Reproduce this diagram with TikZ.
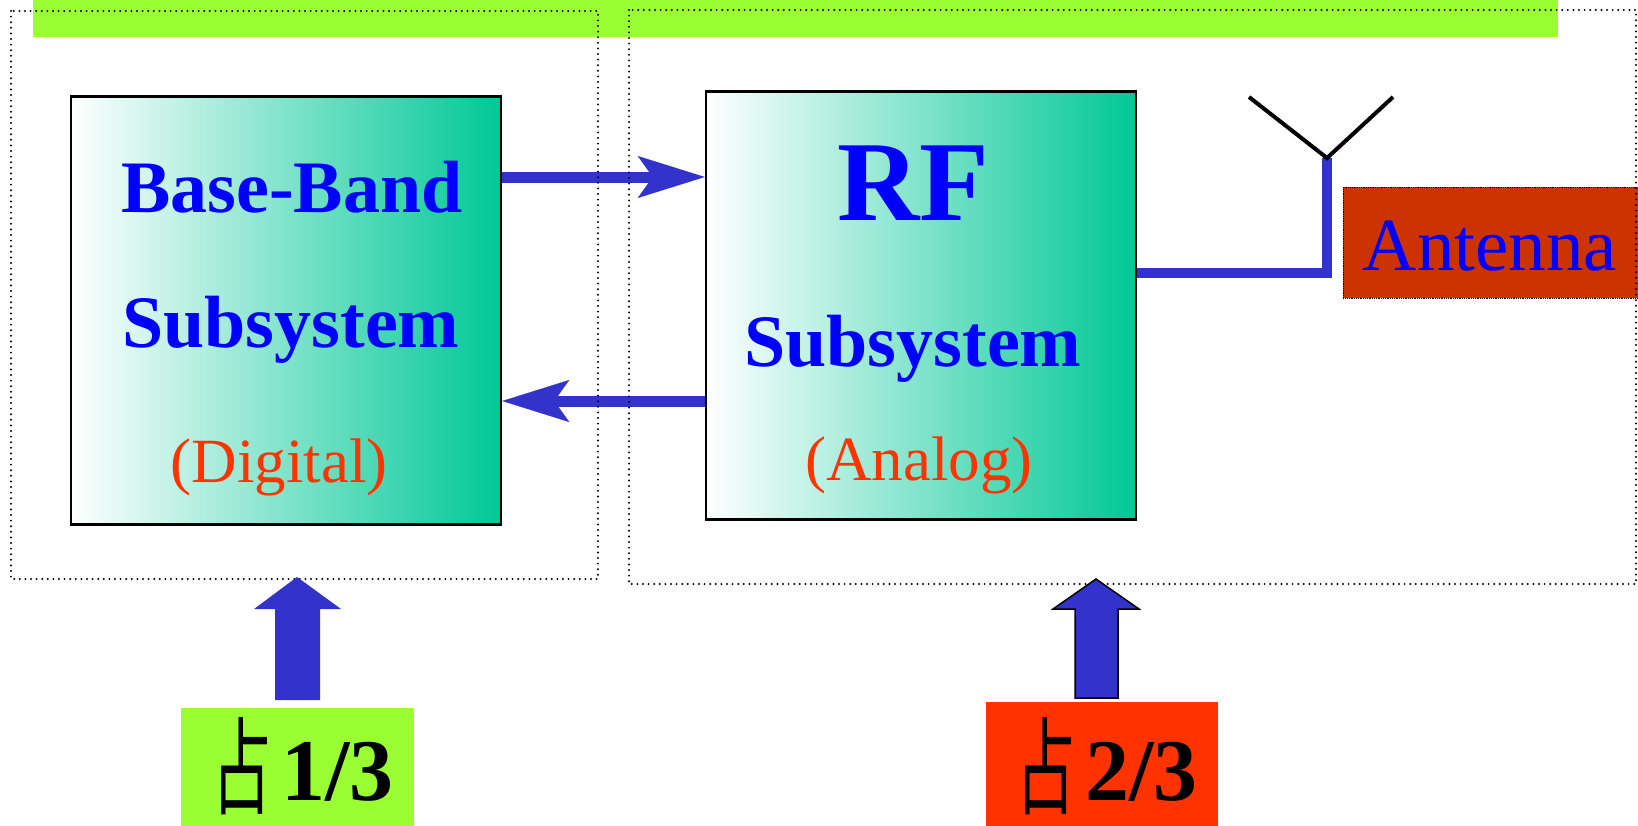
\documentclass[tikz,border=0pt]{standalone}
\usepackage{fontspec}
\setmainfont{Liberation Serif}
\newfontfamily\cjk{Noto Sans CJK SC}
\usetikzlibrary{arrows.meta,calc}
\definecolor{barGreen}{RGB}{153,255,51}
\definecolor{tealEnd}{RGB}{0,200,150}
\definecolor{arrowBlue}{RGB}{51,51,204}
\definecolor{txtBlue}{RGB}{0,0,255}
\definecolor{txtRed}{RGB}{255,51,0}
\definecolor{antRed}{RGB}{204,51,0}
\definecolor{lblRed}{RGB}{255,51,0}
\begin{document}
\begin{tikzpicture}[x=1pt,y=-1pt,
  subsys/.style={draw=black,line width=2.5pt,left color=white,middle color=tealEnd!38,right color=tealEnd,
    minimum width=430pt,minimum height=428pt,inner sep=0pt},
  boldtxt/.style={anchor=base,text=txtBlue,font=\fontsize{74}{80}\selectfont\bfseries,inner sep=0pt},
  regtxt/.style={anchor=base,text=txtRed,font=\fontsize{63}{70}\selectfont,inner sep=0pt},
  flow/.style={draw=arrowBlue,line width=11pt,
    -{Stealth[length=67pt,width=42pt,inset=15pt,line width=0.1pt,fill=arrowBlue]}},
  region/.style={draw=black,line width=2.2pt,dash pattern=on 0pt off 5.6pt,line cap=round},
  lbl/.style={minimum width=233pt,minimum height=120pt,inner sep=0pt,anchor=north west},
  lbltxt/.style={anchor=base,inner sep=0pt,text=black},
]
\useasboundingbox (0,0) rectangle (1638,825);

% top bar
\fill[barGreen] (33,0) rectangle (1558,37);

% subsystem boxes
\node[subsys] (bb) at (286,310.5) {};
\node[subsys] (rf) at (921,305.5) {};

% texts
\node[boldtxt] (bbt1) at (292,212) {Base-Band};
\node[boldtxt] (bbt2) at (291,347) {Subsystem};
\node[regtxt]  (bbt3) at (279,482) {(Digital)};
\node[boldtxt,font=\fontsize{114}{120}\selectfont\bfseries] (rft1) at (913,220) {RF};
\node[boldtxt] (rft2) at (913,366) {Subsystem};
\node[regtxt]  (rft3) at (919,480) {(Analog)};

% flow arrows
\coordinate (yu) at (0,177);
\coordinate (yd) at (0,401);
\draw[flow] (bb.east |- yu) -- (rf.west |- yu);
\draw[flow] (rf.west |- yd) -- (bb.east |- yd);

% antenna
\coordinate (ya) at (0,273);
\coordinate (feed) at (1327,158);
\coordinate (armL) at (1249,97);
\coordinate (armR) at (1393,97);
\node[fill=antRed,draw=black,line width=0.8pt,densely dotted,minimum width=310pt,minimum height=111pt,
  inner sep=0pt,anchor=north west] (antbox) at (1343,187) {};
\node[anchor=base,inner sep=0pt,text=txtBlue,font=\fontsize{75}{80}\selectfont] (antt) at (1490,270) {Antenna};
\draw[arrowBlue,line width=10pt,line join=miter] (rf.east |- ya) -- (feed |- ya) -- (feed);
\draw[black,line width=4pt] (armL) -- (feed) -- (armR);

% dotted regions
\draw[region] (11,11) rectangle (598,579);
\draw[region] (629,10) rectangle (1636,584);

% share labels
\node[lbl,fill=barGreen] (g) at (181,708) {};
\node[lbl,fill=lblRed,minimum width=232pt,minimum height=125pt] (r) at (986,702) {};
\node[lbltxt] (gt) at (303,800) {\raisebox{-6pt}{\scalebox{0.56}[1]{\fontsize{106}{110}\cjk 占}}\kern10pt{\fontsize{88}{92}\selectfont\bfseries 1/3}};
\node[lbltxt] (rt) at (1107,800) {\raisebox{-6pt}{\scalebox{0.56}[1]{\fontsize{106}{110}\cjk 占}}\kern10pt{\fontsize{88}{92}\selectfont\bfseries 2/3}};

% fat up arrows
\fill[arrowBlue] (275,700) -- (275,609) -- (254,609) -- (297,577)
  -- (341,609) -- (320,609) -- (320,700) -- cycle;
\filldraw[fill=arrowBlue,draw=black,line width=1.5pt,line join=miter]
  (1075,698) -- (1075,609) -- (1053,609) -- (1096,579) -- (1139,609) -- (1118,609) -- (1118,698) -- cycle;
\end{tikzpicture}
\end{document}
